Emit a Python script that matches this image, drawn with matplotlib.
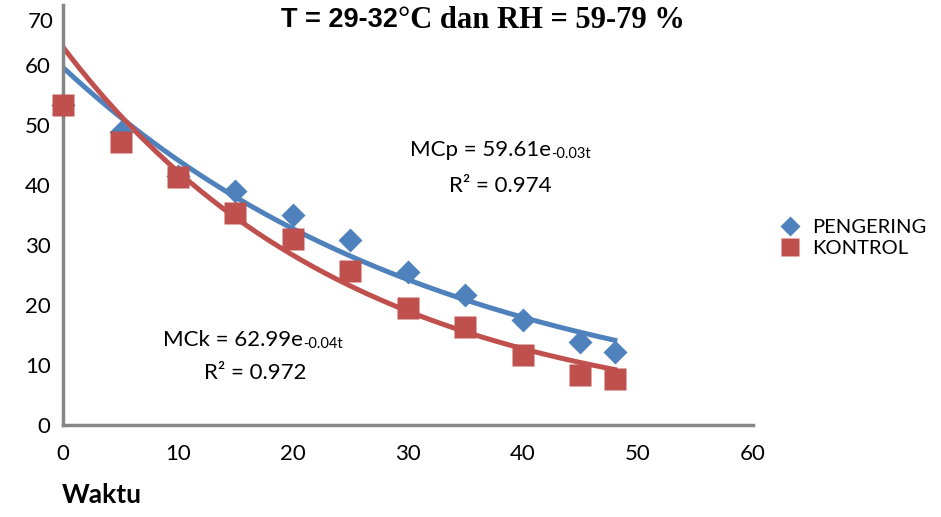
import numpy as np
import matplotlib.pyplot as plt

# data
waktu = [0, 5, 10, 15, 20, 25, 30, 35, 40, 45, 48]
mc_pengering = [53.3, 48.8, 41.5, 39.0, 35.0, 30.8, 25.5, 21.7, 17.5, 13.8, 12.2]
mc_kontrol = [53.3, 47.2, 41.3, 35.3, 31.0, 25.7, 19.5, 16.3, 11.7, 8.3, 7.7]

# koefisien trendline eksponensial
a_p, k_p = 59.61, 0.03
a_k, k_k = 62.99, 0.04

x_ticks = [0, 10, 20, 30, 40, 50, 60]
y_ticks = [0, 10, 20, 30, 40, 50, 60]
y_max = 70

biru = '#4F81BD'
merah = '#C0504D'
abu = '#868686'
huruf = 'Lato'

fig = plt.figure(figsize=(9.41, 5.17), dpi=100)
ax = fig.add_axes([0.067, 0.178, 0.733, 0.812])

t = np.linspace(0, waktu[-1], 200)
ax.plot(t, a_p * np.exp(-k_p * t), color=biru, lw=3.6, zorder=2)
ax.plot(t, a_k * np.exp(-k_k * t), color=merah, lw=3.6, zorder=2)

ax.plot(waktu, mc_pengering, 'D', color=biru, ms=12.5, mec='none',
        label='PENGERING', zorder=3, clip_on=False)
ax.plot(waktu, mc_kontrol, 's', color=merah, ms=16, mec='none',
        label='KONTROL', zorder=4, clip_on=False)

ax.set_xlim(0, 60)
ax.set_ylim(0, y_max)
ax.set_xticks(x_ticks)
ax.set_yticks(y_ticks)
ax.tick_params(length=0, labelsize=16, pad=14)
ax.tick_params(axis='y', pad=9)
for lab in ax.get_xticklabels() + ax.get_yticklabels():
    lab.set_family(huruf)
# label 70 di puncak sumbu, sedikit turun agar tidak terpotong
ax.annotate(str(y_max), xy=(0, y_max), xycoords=('axes fraction', 'data'),
            xytext=(-6.5, -12), textcoords='offset points', ha='right', va='center',
            family=huruf, fontsize=16)

for s in ['top', 'right']:
    ax.spines[s].set_visible(False)
for s in ['left', 'bottom']:
    ax.spines[s].set_color(abu)
    ax.spines[s].set_linewidth(2.5)

# judul (campuran font)
fig.text(0.423, 0.961, 'T = 29-32', ha='right', va='center',
         family='Liberation Sans', weight='bold', fontsize=19.5)
fig.text(0.423, 0.961, '\u00b0C dan RH = 59-79 %', ha='left', va='center',
         family='Liberation Serif', weight='bold', fontsize=22)

fig.text(0.066, 0.043, 'Waktu', ha='left', va='center',
         family=huruf, weight='bold', fontsize=19)

# persamaan trendline
fig.canvas.draw()
r = fig.canvas.get_renderer()


def persamaan(x, y, utama, pangkat):
    tx = fig.text(x, y, utama, ha='left', va='center', family=huruf, fontsize=16)
    bb = tx.get_window_extent(r)
    fig.text(bb.x1 / fig.bbox.width, y - 0.008, pangkat, ha='left', va='center',
             family=huruf, fontsize=10.5)


persamaan(0.436, 0.710, 'MCp = 59.61e', '-0.03t')
fig.text(0.532, 0.640, 'R\u00b2 = 0.974', ha='center', va='center',
         family=huruf, fontsize=16)
persamaan(0.173, 0.342, 'MCk = 62.99e', '-0.04t')
fig.text(0.271, 0.279, 'R\u00b2 = 0.972', ha='center', va='center',
         family=huruf, fontsize=16)

fig.legend(loc='center left', bbox_to_anchor=(0.809, 0.540), frameon=False,
           prop={'family': huruf, 'size': 14.5}, handletextpad=0.55,
           labelspacing=0.2, handlelength=1.1, markerscale=0.85)

fig.savefig('out.png', dpi=100)
